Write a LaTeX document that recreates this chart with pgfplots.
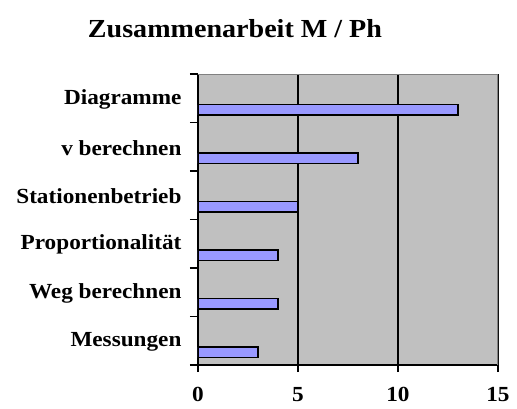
\documentclass[border=0pt]{standalone}
\usepackage{fontspec}
\setmainfont{Liberation Serif}[FakeStretch=1.08]
\usepackage{pgfplots}
\pgfplotsset{compat=1.18}

\definecolor{plotbg}{HTML}{C0C0C0}
\definecolor{frame}{HTML}{808080}
\definecolor{barfill}{HTML}{9999FF}

\begin{document}
\begin{tikzpicture}
  % page = 517 x 408 (1px = 1pt), axis box lower left at origin
  \useasboundingbox (-198pt,-43pt) rectangle (319pt,365pt);
  \begin{axis}[
      scale only axis,
      width=300pt, height=291pt,
      xbar,
      xmin=0, xmax=15,
      ymin=-0.5, ymax=5.5,
      xtick={0,5,10,15},
      ytick={0,1,2,3,4,5},
      yticklabels={Messungen,Weg berechnen,Proportionalität,Stationenbetrieb,v berechnen,Diagramme},
      minor ytick={-0.5,0.5,1.5,2.5,3.5,4.5,5.5},
      axis x line*=bottom,
      axis y line*=left,
      axis line style={line width=1.6pt, black},
      axis background/.style={fill=plotbg},
      xmajorgrids,
      major grid style={line width=1.4pt, black},
      major tick length=7pt,
      minor tick length=8pt,
      tick style={line width=1.4pt, black},
      major y tick style={draw=none},
      xtick align=outside,
      ytick align=outside,
      /pgf/number format/assume math mode=true,
      tick label style={font=\fontsize{21.5}{24}\selectfont\bfseries},
      xticklabel style={yshift=-12pt},
      yticklabel style={xshift=-6pt, yshift=-1pt},
      bar width=10.5pt,
      bar shift=-11.5pt,
    ]
    \addplot[fill=barfill, draw=black, line width=1.4pt] coordinates {
      (3,0) (4,1) (4,2) (5,3) (8,4) (13,5)
    };
    \draw[frame, line width=1.6pt] (rel axis cs:0,1) -- (rel axis cs:1,1) -- (rel axis cs:1,0);
  \end{axis}
  \node[font=\fontsize{26}{30}\selectfont\bfseries] at (37pt,336pt) {Zusammenarbeit M / Ph};
\end{tikzpicture}
\end{document}
